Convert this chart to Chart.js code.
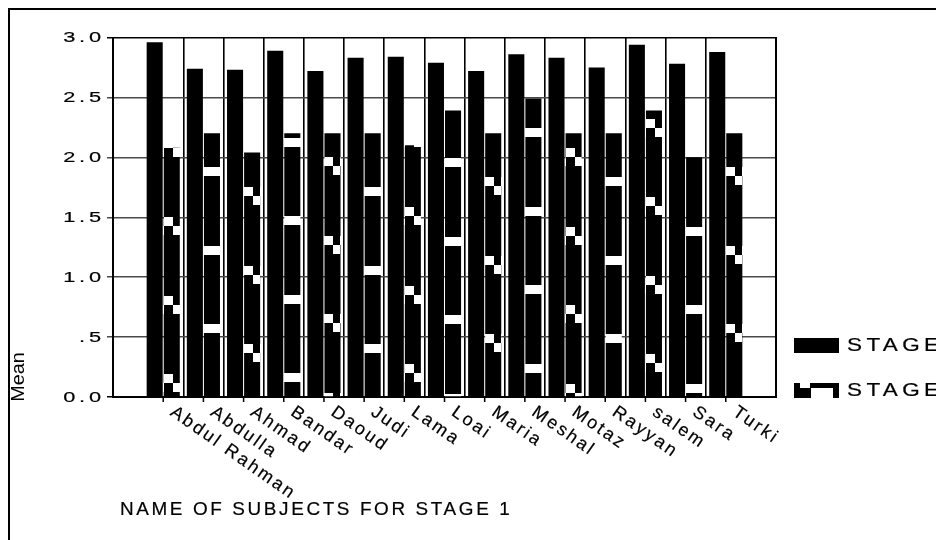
<!DOCTYPE html>
<html>
<head>
<meta charset="utf-8">
<script src="https://cdn.jsdelivr.net/npm/chart.js@4.4.0/dist/chart.umd.min.js"></script>
<style>
  html, body { margin: 0; padding: 0; background: #fff; overflow: hidden; }
  #wrap { position: relative; width: 936px; height: 540px; }
  #frame { position: absolute; left: 8px; top: 8px; width: 1000px; height: 600px;
           border-left: 2.5px solid #000; border-top: 2.5px solid #000; pointer-events: none; }
</style>
</head>
<body>
<div id="wrap"><canvas id="chart"></canvas><div id="frame"></div></div>
<script>
// data
const subjects = ['Abdul Rahman', 'Abdulla', 'Ahmad', 'Bandar', 'Daoud', 'Judi', 'Lama', 'Loai',
                  'Maria', 'Meshal', 'Motaz', 'Rayyan', 'salem', 'Sara', 'Turki'];
const stage1 = [2.96, 2.74, 2.73, 2.89, 2.72, 2.83, 2.84, 2.79, 2.72, 2.86, 2.83, 2.75, 2.94, 2.78, 2.88];
const stage2 = [2.08, 2.20, 2.04, 2.20, 2.20, 2.20, 2.10, 2.39, 2.20, 2.49, 2.20, 2.20, 2.39, 2.00, 2.20];
const yTicks = [0, 0.5, 1, 1.5, 2, 2.5, 3];
const yTickLabels = ['0.0', '.5', '1.0', '1.5', '2.0', '2.5', '3.0'];
const seriesNames = ['STAGE 1', 'STAGE 2'];
const xTitle = 'NAME OF SUBJECTS FOR STAGE 1';
const yTitle = 'Mean';

// look of the stage 2 fill (white notches, first notch y and whether it spans the bar)
const notchY = [217, 167, 187, 216, 157, 187, 207, 158, 177, 128, 148, 177, 197, 148, 167];
const notchFull = [0, 1, 0, 1, 0, 1, 0, 1, 0, 1, 0, 1, 0, 1, 0];

const FONT = '"Liberation Sans", Arial, sans-serif';

function notchTile(full) {
  const c = document.createElement('canvas');
  c.width = 16; c.height = 157;
  const g = c.getContext('2d');
  g.fillStyle = '#000';
  g.fillRect(0, 0, 16, 157);
  g.fillStyle = '#fff';
  for (const y0 of [0, 79]) {
    if (full) g.fillRect(0, y0, 16, 9);
    else { g.fillRect(0, y0, 9, 9); g.fillRect(9, y0 + 9, 7, 9); }
  }
  return c;
}
const tiles = [notchTile(false), notchTile(true)];

function notchFill(ctx) {
  if (ctx.type !== 'data') return '#000';
  const i = ctx.dataIndex;
  const xs = ctx.chart.scales.x;
  const p = ctx.chart.ctx.createPattern(tiles[notchFull[i]], 'repeat');
  const left = Math.round(xs.getPixelForValue(i) + 0.5);
  p.setTransform(new DOMMatrix([1, 0, 0, 1, left, notchY[i]]));
  return p;
}

// text with optional stretch and tracking
function txt(g, s, x, y, o) {
  g.save();
  g.translate(x, y);
  if (o.rot) g.rotate(o.rot);
  g.scale(o.sx || 1, 1);
  g.font = o.font;
  g.letterSpacing = (o.sp || 0) + 'px';
  g.textBaseline = o.base || 'alphabetic';
  g.fillStyle = '#000';
  const w = g.measureText(s).width - (o.sp || 0);
  const dx = o.align === 'right' ? -w : o.align === 'center' ? -w / 2 : 0;
  g.fillText(s, dx, 0);
  if (o.heavy) {
    g.strokeStyle = '#000';
    g.lineWidth = o.heavy;
    g.strokeText(s, dx, 0);
  }
  g.restore();
}

const decor = {
  id: 'decor',
  afterDraw(chart) {
    const g = chart.ctx;
    const xs = chart.scales.x, ys = chart.scales.y;
    const bottom = chart.chartArea.bottom;

    // y tick labels
    yTicks.forEach((v, i) => {
      txt(g, yTickLabels[i], 101, ys.getPixelForValue(v) + 0.5,
          { font: '15px ' + FONT, sx: 1.45, sp: 2.6, align: 'right', base: 'middle', heavy: 0.2 });
    });

    // x tick marks and slanted names
    g.save();
    g.strokeStyle = '#000';
    g.lineWidth = 1.5;
    subjects.forEach((name, i) => {
      const x = xs.getPixelForValue(i);
      g.beginPath();
      g.moveTo(x, bottom);
      g.lineTo(x, bottom + 5);
      g.stroke();
      txt(g, name, x + 14, 403, { font: '18px ' + FONT, sp: 2.5, rot: 35 * Math.PI / 180, base: 'top', heavy: 0.2 });
    });
    g.restore();

    // axis titles
    txt(g, yTitle, 19, 377, { font: '18px ' + FONT, sx: 1.1, rot: -Math.PI / 2, align: 'center', base: 'middle' });
    txt(g, xTitle, 120, 515, { font: '18px ' + FONT, sx: 1.05, sp: 2.5, heavy: 0.2 });

    // legend
    g.save();
    g.fillStyle = '#000';
    g.fillRect(794, 338, 45, 15);
    g.fillRect(794, 383, 45, 15);
    g.fillStyle = '#fff';
    g.fillRect(800, 383, 10, 5);
    g.fillRect(811, 388, 22, 10);
    g.restore();
    txt(g, seriesNames[0], 847, 346, { font: '18px ' + FONT, sx: 1.25, sp: 3.5, base: 'middle', heavy: 0.2 });
    txt(g, seriesNames[1], 847, 391, { font: '18px ' + FONT, sx: 1.25, sp: 3.5, base: 'middle', heavy: 0.2 });
  }
};

new Chart(document.getElementById('chart'), {
  type: 'bar',
  data: {
    labels: subjects,
    datasets: [
      { label: seriesNames[0], data: stage1, backgroundColor: '#000', borderWidth: 0 },
      { label: seriesNames[1], data: stage2, backgroundColor: notchFill, borderWidth: 0 }
    ]
  },
  options: {
    responsive: true,
    maintainAspectRatio: false,
    animation: false,
    devicePixelRatio: 1,
    categoryPercentage: 0.85,
    barPercentage: 0.94,
    layout: { padding: { top: 37.5, right: 160, left: 0, bottom: 0 } },
    plugins: { legend: { display: false }, tooltip: { enabled: false } },
    scales: {
      x: {
        type: 'category',
        offset: true,
        grid: {
          offset: true,
          drawTicks: false,
          lineWidth: 1.6,
          color: c => (c.type !== 'tick' || c.index === 0) ? 'rgba(0,0,0,0)' : '#000'
        },
        border: { color: '#000', width: 2 },
        ticks: { display: false },
        // wide empty margin each side of the categories, as in the original
        afterBuildTicks: s => { s._startValue = -1.25; s._valueRange = 16.5; },
        afterFit: s => { s.height = 143; }
      },
      y: {
        min: 0,
        max: 3,
        ticks: { display: false, stepSize: 0.5 },
        grid: {
          tickLength: 6,
          lineWidth: 1.5,
          color: c => (c.tick && (c.tick.value === 3 || c.tick.value === 0)) ? '#000' : '#4a4a4a'
        },
        border: { color: '#000', width: 2 },
        afterFit: s => { s.width = 113; }
      },
      y2: {
        position: 'right',
        min: 0,
        max: 3,
        ticks: { display: false },
        grid: { drawOnChartArea: false, drawTicks: false },
        border: { color: '#000', width: 2 },
        afterFit: s => { s.width = 0; }
      }
    }
  },
  plugins: [decor]
});
</script>
</body>
</html>
